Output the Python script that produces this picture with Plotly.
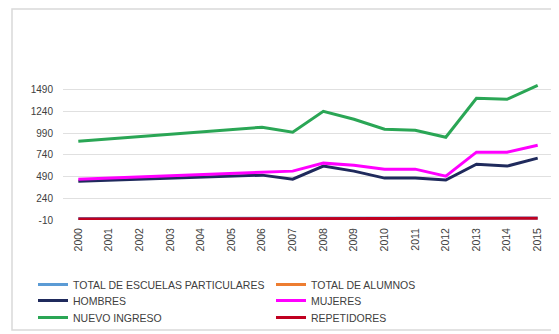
import plotly.graph_objects as go

years = list(range(2000, 2016))
tick_vals = [-10, 240, 490, 740, 990, 1240, 1490]
tick_text = ["-10", "240", "490", "740", "990", "1240", "1490"]

escuelas = [8, 8, 9, 9, 9, 10, 10, 10, 11, 11, 11, 12, 12, 12, 13, 13]
alumnos = [None] * 16
hombres = [437, 449, 461, 472, 484, 495, 506, 460, 610, 552, 472, 472, 449, 632, 610, 701]
mujeres = [460, 473, 487, 500, 513, 527, 540, 552, 644, 620, 575, 575, 495, 770, 770, 850]
nuevo = [896, 923, 950, 976, 1003, 1030, 1057, 999, 1240, 1148, 1034, 1022, 942, 1389, 1378, 1538]
repetidores = [2, 2, 2, 3, 3, 3, 4, 5, 4, 4, 5, 5, 5, 8, 8, 10]

series = [
    ("TOTAL DE ESCUELAS PARTICULARES", escuelas, "#5b9bd5", "legend"),
    ("TOTAL DE ALUMNOS", alumnos, "#ed7d31", "legend"),
    ("HOMBRES", hombres, "#1f2a5c", "legend2"),
    ("MUJERES", mujeres, "#ff00ff", "legend2"),
    ("NUEVO INGRESO", nuevo, "#2aa655", "legend3"),
    ("REPETIDORES", repetidores, "#c00020", "legend3"),
]

fig = go.Figure()
for name, vals, col, lg in series:
    fig.add_trace(go.Scatter(x=years, y=vals, name=name, mode="lines", legend=lg,
                             line=dict(color=col, width=3)))

# page has an 8px body margin; work in page pixel coordinates
OFF = 8
PW, PH = 559, 334
PL, PR, PT, PB = 63, 553, 80, 220   # plot area in page pixels
W, H = PW - OFF, PH - OFF
pw, ph = PR - PL, PB - PT

def px(x):
    return (x - PL) / pw

def py(y):
    return (PB - y) / ph

fig.add_shape(type="rect", xref="paper", yref="paper",
              x0=px(12), x1=px(570), y0=py(330), y1=py(9),
              line=dict(color="#d9d9d9", width=1.5), layer="below")

def leg(top):
    return dict(orientation="h", x=px(33), y=py(top), xanchor="left", yanchor="top",
                entrywidth=193, entrywidthmode="pixels",
                font=dict(family="Liberation Sans", size=10.5, color="#404040"),
                bgcolor="rgba(0,0,0,0)")

fig.update_layout(
    width=W, height=H,
    margin=dict(l=PL - OFF, r=PW - PR, t=PT - OFF, b=PH - PB, autoexpand=False),
    paper_bgcolor="white", plot_bgcolor="white",
    font=dict(family="Liberation Sans", size=10, color="#404040"),
    showlegend=True,
    legend=leg(270), legend2=leg(286), legend3=leg(303),
    xaxis=dict(range=[1999.5, 2015.5], tickvals=years, ticktext=[str(y) for y in years],
               tickangle=-90, showgrid=False, zeroline=False, showline=False,
               ticks="", ticklabelstandoff=5,
               tickfont=dict(size=10.5, color="#404040")),
    yaxis=dict(range=[-10, 1600], tickvals=tick_vals, ticktext=tick_text,
               showgrid=True, gridcolor="#e0e0e0",
               gridwidth=1, zeroline=False, showline=False, ticks="",
               ticklabelstandoff=9, tickfont=dict(size=10, color="#404040")),
)

fig.write_html("out.html")
